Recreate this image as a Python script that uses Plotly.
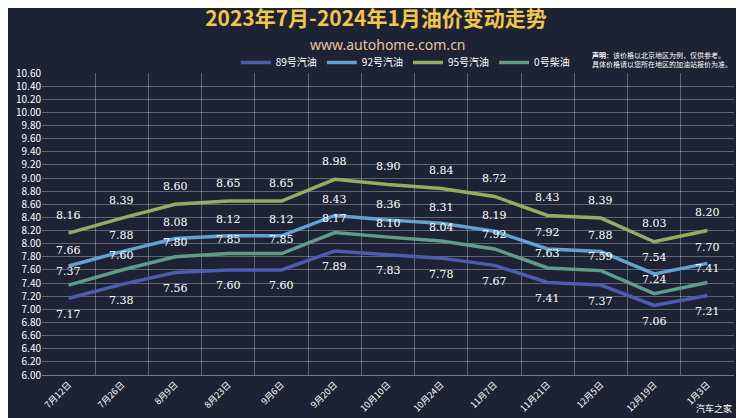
import plotly.graph_objects as go

dates = ["7月12日","7月26日","8月9日","8月23日","9月6日","9月20日","10月10日","10月24日","11月7日","11月21日","12月5日","12月19日","1月3日"]
p89 = [7.17,7.38,7.56,7.60,7.60,7.89,7.83,7.78,7.67,7.41,7.37,7.06,7.21]
p92 = [7.66,7.88,8.08,8.12,8.12,8.43,8.36,8.31,8.19,7.92,7.88,7.54,7.70]
p95 = [8.16,8.39,8.60,8.65,8.65,8.98,8.90,8.84,8.72,8.43,8.39,8.03,8.20]
p0 = [7.37,7.60,7.80,7.85,7.85,8.17,8.10,8.04,7.92,7.63,7.59,7.24,7.41]
yticks = [round(6 + 0.2*i, 2) for i in range(24)]

x = list(range(len(dates)))
fig = go.Figure()
series = [("89号汽油", p89, "#4d5cb0", -16),
          ("92号汽油", p92, "#62a3cc", 16),
          ("95号汽油", p95, "#93ad62", 18),
          ("0号柴油", p0, "#5f9c8c", 14)]
for name, ys, c, shift in series:
    fig.add_trace(go.Scatter(x=x, y=ys, name=name, mode="lines",
        line=dict(color=c, width=3.5)))
    for xi, v in zip(x, ys):
        fig.add_annotation(x=xi, y=v, text=f"{v:.2f}", showarrow=False, yshift=shift,
                           font=dict(color="white", size=11, family="DejaVu Serif"))

fig.update_layout(
    width=736, height=410, paper_bgcolor="#1d2235", plot_bgcolor="#1d2235",
    margin=dict(l=34, r=10, t=65, b=43, autoexpand=False),
    font=dict(family="Noto Sans CJK SC", color="white"),
    title=dict(text="<b>2023年7月-2024年1月油价变动走势</b>", x=0.5, y=0.973, yref="container",
               yanchor="middle", font=dict(size=21, color="#f2c64a")),
    legend=dict(orientation="h", x=0.28, y=1.035, xanchor="left", yanchor="middle",
                font=dict(size=10, color="white"), bgcolor="rgba(0,0,0,0)"),
    showlegend=True,
)
fig.add_annotation(text="www.autohome.com.cn", x=0.5, y=1.093, xref="paper", yref="paper",
                   yanchor="middle", showarrow=False,
                   font=dict(size=14, color="#e8c497", family="Noto Sans"))
fig.add_annotation(text="<b>声明</b>：该价格以北京地区为例，仅供参考。<br>具体价格请以您所在地区的加油站报价为准。",
                   x=1.0, y=1.005, xref="paper", yref="paper", xanchor="right", yanchor="bottom",
                   align="left", showarrow=False, font=dict(size=7, color="white"))
fig.add_annotation(text="汽车之家", x=1.0, y=-0.11, xref="paper", yref="paper", xanchor="right",
                   yanchor="middle", showarrow=False, font=dict(size=9, color="white"))
fig.update_xaxes(range=[-0.5, 12.5], tickvals=x, ticktext=dates, tickangle=-45, showgrid=False,
                 tickfont=dict(size=9, color="white"), zeroline=False,
                 minor=dict(tickvals=[i - 0.5 for i in range(14)], showgrid=True,
                            gridcolor="rgba(255,255,255,0.3)", gridwidth=1),
                 showline=True, linecolor="rgba(255,255,255,0.4)")
fig.update_yaxes(range=[6.0, 10.6], tickvals=yticks, ticktext=[f"{v:.2f}" for v in yticks],
                 gridcolor="rgba(255,255,255,0.3)", tickfont=dict(size=10, color="white"),
                 zeroline=False)
fig.write_html("out.html")
